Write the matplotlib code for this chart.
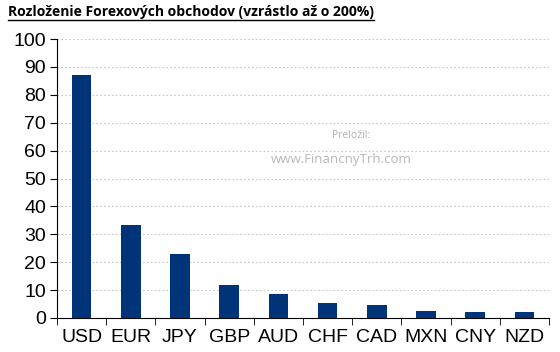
import matplotlib
matplotlib.use("Agg")
import matplotlib.pyplot as plt
import numpy as np

categories = ["USD", "EUR", "JPY", "GBP", "AUD", "CHF", "CAD", "MXN", "CNY", "NZD"]
values = [87.0, 33.4, 23.0, 11.8, 8.6, 5.2, 4.6, 2.5, 2.2, 2.0]
yticks = list(range(0, 101, 10))

plt.rcParams['font.family'] = ['Liberation Sans', 'DejaVu Sans']

fig = plt.figure(figsize=(5.6, 3.52), dpi=100)
ax = fig.add_axes([57/560, 1-318/352, 492/560, (318-39)/352])

x = np.arange(len(categories))
ax.bar(x, values, width=0.4, color="#003478", zorder=3)
ax.set_xlim(-0.5, len(categories)-0.5)
ax.set_ylim(0, 100)
ax.set_yticks(yticks)
ax.set_yticklabels([str(t) for t in yticks], fontsize=14)
ax.yaxis.grid(True, linestyle=(0, (1.5, 2)), color="#c8c8c8", linewidth=0.8, zorder=0)
ax.set_xticks(x)
ax.set_xticklabels(categories, fontsize=14)
ax.tick_params(axis='x', length=0, pad=8)
ax.set_xticks(np.arange(-0.5, len(categories), 1), minor=True)
ax.tick_params(axis='x', which='minor', length=5, direction='out', color='black')
ax.tick_params(axis='y', length=5, direction='out', pad=3)
for s in ['top', 'right']:
    ax.spines[s].set_visible(False)
ax.spines['left'].set_color('black')
ax.spines['bottom'].set_color('black')

t = fig.text(8/560, 1-16/352, "Rozloženie Forexových obchodov (vzrástlo až o 200%)",
             fontsize=10, fontweight='bold', family=['Open Sans', 'DejaVu Sans'],
             va='baseline', ha='left')
fig.canvas.draw()
bb = t.get_window_extent()
r = fig.transFigure.inverted().transform(bb)
fig.add_artist(plt.Line2D([r[0][0], r[1][0]], [r[0][1]-1.0/352, r[0][1]-1.0/352],
                          transform=fig.transFigure, color='black', linewidth=1))

fig.text(351/560, 1-135/352, "Preložil:", family=['Open Sans', 'DejaVu Sans'], fontsize=7.5, color="#b0b0b0", ha='center', va='center')
fig.text(341/560, 1-159/352, "www.FinancnyTrh.com", family=['Open Sans', 'DejaVu Sans'], fontsize=9.5, color="#b8b8b8", ha='center', va='center')

fig.savefig("out.png", dpi=100)
